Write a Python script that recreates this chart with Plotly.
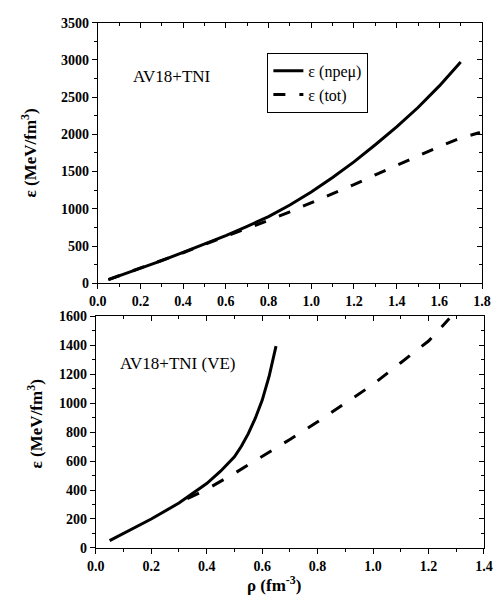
import plotly.graph_objects as go

# ---- data: top panel (AV18+TNI) ----
rho_top_npemu = [0.05, 0.1, 0.2, 0.3, 0.4, 0.5, 0.6, 0.7, 0.8, 0.9, 1.0, 1.1, 1.2, 1.3, 1.4, 1.5, 1.6, 1.7]
eps_top_npemu = [50, 100, 200, 305, 415, 525, 640, 765, 895, 1050, 1225, 1420, 1630, 1860, 2100, 2360, 2650, 2970]
rho_top_tot = [0.05, 0.2, 0.4, 0.6, 0.7, 0.8, 0.9, 1.0, 1.1, 1.2, 1.3, 1.4, 1.5, 1.6, 1.7, 1.79]
eps_top_tot = [50, 200, 410, 630, 735, 845, 960, 1080, 1200, 1325, 1455, 1585, 1715, 1835, 1950, 2025]

# ---- data: bottom panel (AV18+TNI (VE)) ----
rho_bot_npemu = [0.05, 0.1, 0.2, 0.3, 0.4, 0.45, 0.475, 0.5, 0.525, 0.55, 0.575, 0.6, 0.625, 0.65]
eps_bot_npemu = [50, 100, 200, 310, 445, 530, 578, 630, 703, 790, 895, 1020, 1185, 1395]
rho_bot_tot = [0.33, 0.4, 0.5, 0.6, 0.7, 0.8, 0.9, 1.0, 1.1, 1.2, 1.275]
eps_bot_tot = [340, 405, 515, 632, 750, 872, 998, 1130, 1280, 1430, 1585]

top_xticks = [0.0, 0.2, 0.4, 0.6, 0.8, 1.0, 1.2, 1.4, 1.6, 1.8]
top_yticks = [0, 500, 1000, 1500, 2000, 2500, 3000, 3500]
bot_xticks = [0.0, 0.2, 0.4, 0.6, 0.8, 1.0, 1.2, 1.4]
bot_yticks = [0, 200, 400, 600, 800, 1000, 1200, 1400, 1600]

W, H = 501, 604
SERIF = "Liberation Serif"

def px_x(p):
    return p / W

def px_y(p):
    return 1 - p / H

top_xdom = [px_x(92), px_x(490.7)]
top_ydom = [px_y(283.3), px_y(16)]
bot_xdom = [px_x(90), px_x(492.7)]
bot_ydom = [px_y(554.7), px_y(317.3)]

fig = go.Figure()

solid = dict(color="black", width=3)
dashed = dict(color="black", width=3, dash="12px,14px")

fig.add_trace(go.Scatter(x=rho_top_npemu, y=eps_top_npemu, mode="lines", line=solid,
                         name="ε (npeμ)", xaxis="x", yaxis="y"))
fig.add_trace(go.Scatter(x=rho_top_tot, y=eps_top_tot, mode="lines", line=dashed,
                         name="ε (tot)", xaxis="x", yaxis="y"))
fig.add_trace(go.Scatter(x=rho_bot_npemu, y=eps_bot_npemu, mode="lines", line=solid,
                         showlegend=False, xaxis="x2", yaxis="y2"))
fig.add_trace(go.Scatter(x=rho_bot_tot, y=eps_bot_tot, mode="lines",
                         line=dict(color="black", width=3, dash="13px,15px"),
                         showlegend=False, xaxis="x2", yaxis="y2"))

# dummy traces for mirror (inside-tick) axes
fig.add_trace(go.Scatter(x=[None], y=[None], xaxis="x3", yaxis="y3", showlegend=False, hoverinfo="skip"))
fig.add_trace(go.Scatter(x=[None], y=[None], xaxis="x4", yaxis="y4", showlegend=False, hoverinfo="skip"))

tickfont = dict(family=SERIF, size=14, color="black", weight="bold")

def main_axis(domain, rng, ticks, anchor, minor_dtick, fmt=None):
    d = dict(domain=domain, range=rng, tickvals=ticks, anchor=anchor,
             showgrid=False, zeroline=False, showline=True, linecolor="black", linewidth=1,
             ticks="outside", ticklen=5, tickwidth=1, tickcolor="black",
             tickfont=tickfont, mirror=False,
             minor=dict(ticks="outside", ticklen=3, tickwidth=1, tickcolor="black", dtick=minor_dtick, showgrid=False))
    if fmt:
        d["tickformat"] = fmt
    return d

def mirror_axis(domain, rng, ticks, side, overlay, anchor, minor_dtick):
    return dict(domain=domain, range=rng, tickvals=ticks, side=side, overlaying=overlay, anchor=anchor,
                showgrid=False, zeroline=False, showline=True, linecolor="black", linewidth=1,
                ticks="inside", ticklen=5, tickwidth=1, tickcolor="black", showticklabels=False,
                minor=dict(ticks="inside", ticklen=3, tickwidth=1, tickcolor="black", dtick=minor_dtick, showgrid=False))

fig.update_layout(
    width=W, height=H,
    margin=dict(l=0, r=0, t=0, b=0),
    paper_bgcolor="white", plot_bgcolor="white",
    font=dict(family=SERIF, color="black"),
    xaxis=main_axis(top_xdom, [0, 1.8], top_xticks, "y", 0.1, ".1f"),
    yaxis=main_axis(top_ydom, [0, 3500], top_yticks, "x", 250),
    xaxis2=main_axis(bot_xdom, [0, 1.4], bot_xticks, "y2", 0.1, ".1f"),
    yaxis2=main_axis(bot_ydom, [0, 1600], bot_yticks, "x2", 100),
    xaxis3=mirror_axis(top_xdom, [0, 1.8], top_xticks, "top", "x", "y3", 0.1),
    yaxis3=mirror_axis(top_ydom, [0, 3500], top_yticks, "right", "y", "x3", 250),
    xaxis4=mirror_axis(bot_xdom, [0, 1.4], bot_xticks, "top", "x2", "y4", 0.1),
    yaxis4=mirror_axis(bot_ydom, [0, 1600], bot_yticks, "right", "y2", "x4", 100),
    showlegend=True,
    legend=dict(x=px_x(268), y=px_y(47), xanchor="left", yanchor="top",
                bgcolor="white", bordercolor="black", borderwidth=1,
                font=dict(family=SERIF, size=16, color="black"),
                tracegroupgap=0, itemwidth=30),
)

ann_font = dict(family=SERIF, size=17, color="black")
title_font = dict(family=SERIF, size=17, color="black", weight="bold")
fig.add_annotation(text="AV18+TNI", x=px_x(169), y=px_y(71), xref="paper", yref="paper",
                   showarrow=False, font=ann_font, xanchor="center", yanchor="middle")
fig.add_annotation(text="AV18+TNI (VE)", x=px_x(175), y=px_y(366), xref="paper", yref="paper",
                   showarrow=False, font=ann_font, xanchor="center", yanchor="middle")
fig.add_annotation(text="ε (MeV/fm<sup>3</sup>)", x=px_x(21), y=px_y(150), xref="paper", yref="paper",
                   showarrow=False, font=title_font, textangle=-90, xanchor="center", yanchor="middle")
fig.add_annotation(text="ε (MeV/fm<sup>3</sup>)", x=px_x(27), y=px_y(428), xref="paper", yref="paper",
                   showarrow=False, font=title_font, textangle=-90, xanchor="center", yanchor="middle")
fig.add_annotation(text="ρ (fm<sup>-3</sup>)", x=px_x(275), y=px_y(592), xref="paper", yref="paper",
                   showarrow=False, font=title_font, xanchor="center", yanchor="middle")

fig.write_html("out.html")
